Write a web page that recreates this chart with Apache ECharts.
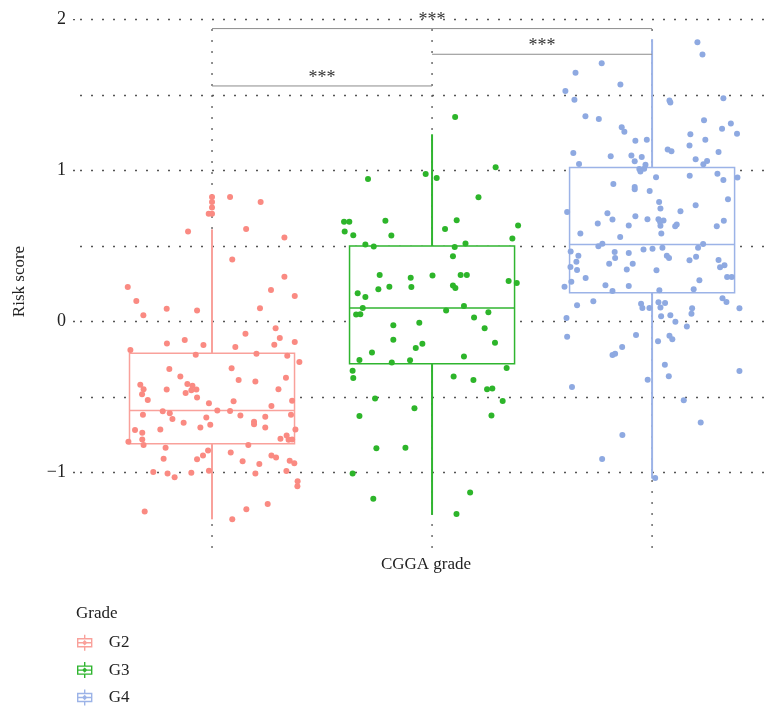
<!DOCTYPE html>
<html><head><meta charset="utf-8">
<script src="https://cdn.jsdelivr.net/npm/echarts@6/dist/echarts.min.js"></script>
<style>html,body{margin:0;padding:0;background:#fff}#c{width:772px;height:707px}</style>
</head><body><div id="c"></div>
<script>
// ---------- data ----------
const categories = ['G2', 'G3', 'G4'];
const yTickValues = [-1, 0, 1, 2];
// [min, Q1, median, Q3, max]
const g2Box = [-1.31, -0.81, -0.59, -0.21, 0.61];
const g3Box = [-1.28, -0.28, 0.09, 0.50, 1.24];
const g4Box = [-1.04, 0.19, 0.51, 1.02, 1.87];
// [jitter offset, risk score]
const g2Points = [[0,0.825],[0.082,0.825],[0,0.792],[0.221,0.792],[0,0.755],[-0.015,0.713],[0,0.713],[-0.109,0.596],[0.155,0.612],[0.329,0.557],[0.092,0.411],[0.329,0.297],[-0.383,0.229],[0.268,0.209],[-0.344,0.136],[0.376,0.169],[-0.206,0.084],[-0.068,0.073],[-0.312,0.042],[0.218,0.088],[0.289,-0.044],[0.152,-0.081],[0.308,-0.110],[-0.205,-0.145],[-0.124,-0.123],[-0.039,-0.156],[0.106,-0.169],[0.283,-0.154],[0.376,-0.136],[-0.371,-0.189],[-0.074,-0.220],[0.202,-0.213],[0.342,-0.227],[0.397,-0.268],[-0.194,-0.315],[0.089,-0.310],[-0.144,-0.365],[0.121,-0.387],[0.197,-0.398],[0.336,-0.372],[-0.326,-0.418],[-0.311,-0.449],[-0.318,-0.482],[-0.206,-0.451],[-0.112,-0.414],[-0.089,-0.425],[-0.094,-0.455],[-0.071,-0.451],[-0.120,-0.473],[0.302,-0.449],[-0.292,-0.519],[-0.068,-0.504],[0.364,-0.524],[-0.014,-0.541],[0.098,-0.528],[0.270,-0.559],[-0.224,-0.594],[0.024,-0.590],[0.082,-0.592],[-0.314,-0.618],[-0.192,-0.607],[-0.180,-0.645],[-0.026,-0.636],[0.129,-0.623],[0.242,-0.631],[0.359,-0.618],[-0.129,-0.671],[-0.008,-0.684],[0.191,-0.664],[0.191,-0.680],[-0.350,-0.719],[-0.235,-0.715],[-0.053,-0.702],[0.242,-0.702],[-0.317,-0.737],[0.379,-0.715],[-0.317,-0.781],[-0.380,-0.796],[-0.311,-0.818],[0.339,-0.755],[0.311,-0.777],[0.348,-0.783],[0.364,-0.781],[-0.211,-0.836],[0.165,-0.818],[-0.018,-0.854],[-0.041,-0.887],[-0.068,-0.913],[-0.220,-0.909],[0.085,-0.867],[0.139,-0.926],[0.270,-0.887],[0.291,-0.900],[0.353,-0.922],[0.374,-0.939],[0.215,-0.944],[-0.267,-0.997],[-0.202,-1.006],[-0.094,-1.001],[-0.014,-0.988],[0.197,-1.006],[0.338,-0.990],[-0.170,-1.032],[0.389,-1.058],[0.388,-1.091],[0.253,-1.208],[0.156,-1.243],[-0.306,-1.259],[0.092,-1.309]];
const g3Points = [[0.105,1.355],[0.289,1.021],[-0.291,0.944],[-0.029,0.977],[0.021,0.950],[0.211,0.823],[-0.400,0.660],[-0.376,0.660],[-0.212,0.667],[0.112,0.671],[-0.397,0.596],[-0.358,0.572],[-0.185,0.570],[0.059,0.612],[0.391,0.636],[0.365,0.550],[-0.303,0.510],[-0.265,0.497],[0.103,0.493],[0.152,0.517],[0.095,0.433],[-0.238,0.308],[-0.097,0.290],[0.002,0.304],[0.130,0.308],[0.158,0.308],[0.348,0.268],[0.385,0.255],[-0.244,0.213],[-0.194,0.231],[-0.094,0.229],[0.095,0.238],[0.106,0.222],[-0.338,0.187],[-0.303,0.163],[-0.315,0.090],[-0.345,0.046],[-0.326,0.048],[0.145,0.103],[0.064,0.073],[0.256,0.062],[0.191,0.026],[-0.176,-0.024],[-0.058,-0.009],[0.239,-0.044],[-0.176,-0.121],[-0.044,-0.147],[-0.074,-0.176],[0.286,-0.141],[-0.273,-0.205],[-0.330,-0.255],[-0.183,-0.271],[-0.100,-0.257],[0.145,-0.231],[0.339,-0.308],[-0.361,-0.326],[-0.358,-0.374],[0.098,-0.365],[0.188,-0.387],[0.250,-0.449],[0.274,-0.444],[-0.259,-0.510],[0.321,-0.526],[-0.080,-0.574],[-0.330,-0.625],[0.270,-0.623],[-0.253,-0.840],[-0.121,-0.836],[-0.361,-1.006],[-0.267,-1.173],[0.173,-1.133],[0.111,-1.274]];
const g4Points = [[0.206,1.850],[0.229,1.769],[-0.229,1.710],[-0.348,1.648],[-0.144,1.569],[-0.394,1.527],[-0.353,1.468],[0.079,1.463],[0.083,1.450],[0.324,1.479],[-0.303,1.360],[-0.242,1.342],[0.236,1.333],[0.358,1.311],[0.318,1.276],[-0.138,1.287],[-0.126,1.256],[0.174,1.241],[0.386,1.243],[-0.076,1.197],[-0.024,1.204],[0.242,1.204],[0.170,1.166],[0.071,1.140],[0.088,1.127],[0.302,1.122],[-0.358,1.116],[-0.188,1.094],[-0.094,1.100],[-0.047,1.089],[-0.079,1.061],[0.198,1.074],[0.250,1.063],[0.233,1.041],[-0.332,1.043],[-0.030,1.039],[-0.058,1.010],[-0.053,0.994],[-0.036,1.012],[0.018,0.955],[0.171,0.966],[0.297,0.979],[0.324,0.937],[0.388,0.953],[-0.176,0.911],[-0.079,0.891],[-0.079,0.876],[-0.011,0.865],[0.345,0.810],[0.032,0.792],[0.038,0.748],[0.198,0.770],[-0.386,0.726],[-0.203,0.717],[0.129,0.730],[-0.180,0.675],[-0.076,0.697],[-0.021,0.678],[0.029,0.678],[0.052,0.669],[0.036,0.660],[-0.247,0.649],[-0.106,0.636],[0.038,0.634],[0.105,0.631],[0.112,0.642],[0.294,0.631],[0.326,0.667],[-0.326,0.583],[-0.145,0.559],[0.042,0.583],[-0.226,0.515],[-0.244,0.499],[0.232,0.513],[-0.370,0.464],[-0.170,0.460],[-0.106,0.453],[-0.039,0.477],[0.002,0.482],[0.047,0.488],[0.209,0.488],[-0.335,0.436],[-0.168,0.420],[0.067,0.436],[0.077,0.420],[0.170,0.405],[0.200,0.429],[0.302,0.407],[-0.344,0.396],[-0.195,0.383],[-0.088,0.383],[0.329,0.372],[0.309,0.359],[-0.371,0.361],[-0.341,0.341],[-0.115,0.345],[0.020,0.339],[-0.302,0.288],[0.341,0.295],[0.362,0.295],[-0.367,0.264],[0.215,0.273],[-0.398,0.231],[-0.212,0.240],[-0.106,0.235],[-0.180,0.202],[0.033,0.207],[0.189,0.213],[-0.267,0.134],[0.320,0.154],[0.338,0.130],[-0.050,0.117],[0.029,0.128],[0.059,0.123],[-0.341,0.108],[-0.044,0.090],[-0.012,0.090],[0.038,0.092],[0.182,0.088],[0.397,0.088],[0.179,0.051],[0.041,0.035],[0.083,0.042],[-0.389,0.024],[0.106,-0.002],[0.158,-0.033],[-0.386,-0.101],[-0.073,-0.090],[0.079,-0.095],[0.092,-0.117],[0.027,-0.130],[-0.136,-0.169],[-0.180,-0.222],[-0.168,-0.213],[0.058,-0.286],[0.076,-0.363],[-0.020,-0.385],[0.397,-0.328],[-0.364,-0.433],[0.144,-0.521],[0.221,-0.669],[-0.135,-0.752],[-0.227,-0.911],[0.014,-1.036]];
// significance brackets: [from group, to group, height]
const brackets = [[1, 2, 1.56], [2, 3, 1.77], [1, 3, 1.94]];
const bracketLabels = ['***', '***', '***'];
const yMin = -1.5, yMax = 2.03, vGridTop = 1.94;
const xMin = 0.4, xMax = 3.545;

// ---------- styles ----------
const FONT = 'Liberation Serif';
const pointColors = ['#FA8A82', '#2DB52A', '#8EA9E1'];
const boxColors = ['#F9A19B', '#30B530', '#9CB3E7'];
const gridColor = '#555';
const dotted = [2, 9];

const boxes = [g2Box, g3Box, g4Box];
const points = [g2Points, g3Points, g4Points];

function boxRenderer(color) {
  return function (params, api) {
    const x = api.value(0);
    const lo = api.coord([x, api.value(1)]);
    const q1 = api.coord([x, api.value(2)]);
    const md = api.coord([x, api.value(3)]);
    const q3 = api.coord([x, api.value(4)]);
    const hi = api.coord([x, api.value(5)]);
    const w = api.size([0.75, 0])[0];
    const ls = { stroke: color, lineWidth: 1.5 };
    return { type: 'group', children: [
      { type: 'line', shape: { x1: lo[0], y1: lo[1], x2: q1[0], y2: q1[1] }, style: Object.assign({}, ls, { lineWidth: 2 }) },
      { type: 'line', shape: { x1: q3[0], y1: q3[1], x2: hi[0], y2: hi[1] }, style: Object.assign({}, ls, { lineWidth: 2 }) },
      { type: 'rect', shape: { x: q3[0] - w / 2, y: q3[1], width: w, height: q1[1] - q3[1] }, style: { stroke: color, fill: '#fff', lineWidth: 1.5 } },
      { type: 'line', shape: { x1: md[0] - w / 2, y1: md[1], x2: md[0] + w / 2, y2: md[1] }, style: ls }
    ] };
  };
}

const series = [];
// vertical dotted grid lines at category centres
series.push({
  type: 'custom', name: 'vgrid', silent: true, z: 1,
  data: categories.map((c, i) => [i + 1]),
  renderItem: function (params, api) {
    const x = api.value(0);
    const a = api.coord([x, yMin]);
    const b = api.coord([x, vGridTop]);
    return { type: 'line', shape: { x1: a[0], y1: a[1], x2: b[0], y2: b[1] }, style: { stroke: gridColor, lineWidth: 1.3, lineDash: dotted } };
  }
});
// major y ticks
series.push({
  type: 'custom', name: 'yticks', silent: true, z: 1, clip: false,
  data: yTickValues.map(v => [xMin, v]),
  renderItem: function (params, api) {
    const p = api.coord([api.value(0), api.value(1)]);
    return { type: 'line', shape: { x1: p[0] - 7, y1: p[1], x2: p[0], y2: p[1] }, style: { stroke: gridColor, lineWidth: 1.3, lineDash: dotted } };
  }
});
categories.forEach((name, i) => {
  series.push({
    type: 'custom', name: name, z: 2,
    itemStyle: { color: boxColors[i] },
    encode: { x: 0, y: [1, 2, 3, 4, 5] },
    data: [[i + 1].concat(boxes[i])],
    renderItem: boxRenderer(boxColors[i])
  });
  series.push({
    type: 'scatter', name: name, z: 3,
    symbolSize: 6,
    itemStyle: { color: pointColors[i], opacity: 1 },
    data: points[i].map(p => [i + 1 + p[0], p[1]])
  });
});
series.push({
  type: 'custom', name: 'brackets', silent: true, z: 4,
  data: brackets.map((b, k) => b.concat([k])),
  encode: { x: [0, 1], y: 2 },
  renderItem: function (params, api) {
    const a = api.coord([api.value(0), api.value(2)]);
    const b = api.coord([api.value(1), api.value(2)]);
    return { type: 'group', children: [
      { type: 'line', shape: { x1: a[0], y1: a[1], x2: b[0], y2: b[1] }, style: { stroke: '#8c8c8c', lineWidth: 1 } },
      { type: 'text', style: { text: bracketLabels[api.value(3)], x: (a[0] + b[0]) / 2, y: a[1] + 1, align: 'center', verticalAlign: 'bottom', textAlign: 'center', textVerticalAlign: 'bottom', fontSize: 18, fontFamily: FONT, fill: '#333' } }
    ] };
  }
});

const legendIcon = 'path://M8,0V4M8,12V16M1,4H15V12H1ZM1,8H15M8,6.3L9.7,8L8,9.7L6.3,8Z';

const chart = echarts.init(document.getElementById('c'), null, { renderer: 'canvas' });
chart.setOption({
  backgroundColor: '#fff',
  animation: false,
  title: { text: 'Grade', left: 71, top: 600, textStyle: { fontSize: 17, fontWeight: 'normal', fontFamily: FONT, color: '#222' } },
  legend: {
    orient: 'vertical', left: 77, top: 634, padding: 0, itemWidth: 38, itemHeight: 16, itemGap: 10,
    symbolKeepAspect: true,
    textStyle: { fontSize: 17, lineHeight: 16, fontFamily: FONT, color: '#222' },
    data: categories.map((name, i) => ({ name: name, icon: legendIcon, itemStyle: { color: 'rgba(255,255,255,0)', borderColor: boxColors[i], borderWidth: 1.4 } }))
  },
  grid: { left: 80, top: 15, right: 0, height: 533 },
  xAxis: {
    type: 'value', min: xMin, max: xMax,
    axisLine: { show: false }, axisTick: { show: false }, axisLabel: { show: false }, splitLine: { show: false },
    name: 'CGGA grade', nameLocation: 'middle', nameGap: 8,
    nameTextStyle: { fontSize: 17, fontFamily: FONT, color: '#222' }
  },
  yAxis: {
    type: 'value', min: yMin, max: yMax, interval: 0.5,
    axisLine: { show: false }, axisTick: { show: false },
    axisLabel: {
      margin: 14, fontSize: 18, fontFamily: FONT, color: '#222',
      formatter: function (v) {
        if (yTickValues.indexOf(v) < 0) return '';
        return v < 0 ? '\u2212' + Math.abs(v) : String(v);
      }
    },
    splitLine: { show: true, showMinLine: false, showMaxLine: false, lineStyle: { color: gridColor, width: 1.3, type: dotted } },
    name: 'Risk score', nameLocation: 'middle', nameGap: 52, nameRotate: 90,
    nameTextStyle: { fontSize: 17, fontFamily: FONT, color: '#222' }
  },
  series: series
});
</script></body></html>
